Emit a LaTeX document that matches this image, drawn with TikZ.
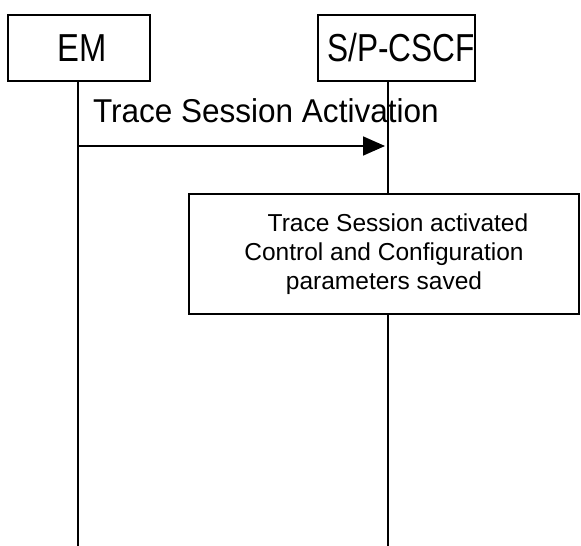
\documentclass[tikz,border=0pt]{standalone}
\usepackage{fontspec}
\setmainfont{Liberation Sans}
\usetikzlibrary{arrows.meta}
\begin{document}
\begin{tikzpicture}[x=1pt,y=-1pt,
  every node/.style={inner sep=0pt, outer sep=0pt},
  entity/.style={draw, line width=1.8pt, minimum height=66pt, font=\fontsize{39}{43}\selectfont},
  actbox/.style={draw, line width=1.8pt, minimum width=390pt, minimum height=120pt, align=center, font=\fontsize{24.5}{29}\selectfont},
  life/.style={line width=1.8pt},
  msg/.style={line width=1.8pt, -{Triangle[length=22pt,width=19pt]}, shorten >=3pt}]
\useasboundingbox (0,0) rectangle (581,546);
\node[entity, minimum width=142pt] (em) at (79,48) {\hspace*{7pt}\scalebox{0.84}[1]{EM}};
\node[entity, minimum width=155pt] (cscf) at (396.5,48) {\hspace*{9pt}\scalebox{0.81}[1]{S/P-CSCF}};
\node[actbox] (act) at (384,254) {\hspace*{28pt}Trace Session activated\\Control and Configuration\\parameters saved};
\coordinate (embot) at (78,546);
\coordinate (csbot) at (388,546);
\draw[life] (em.south -| embot) -- (embot);
\draw[life] (cscf.south -| csbot) -- (act.north -| csbot);
\draw[life] (act.south -| csbot) -- (csbot);
\coordinate (msgs) at (78,146);
\draw[msg] (msgs) -- (msgs -| csbot);
\node[anchor=base west, font=\fontsize{33}{37}\selectfont] (lbl) at (93,122) {\scalebox{0.955}[1]{Trace Session Activation}};
\end{tikzpicture}
\end{document}
